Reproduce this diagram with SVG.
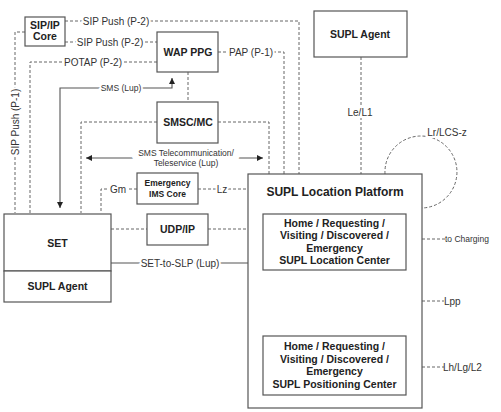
<svg xmlns="http://www.w3.org/2000/svg" width="501" height="412" viewBox="0 0 501 412">
<defs>
<marker id="arr" markerWidth="6" markerHeight="6" refX="6" refY="3" orient="auto-start-reverse" markerUnits="userSpaceOnUse">
<path d="M0,0 L6,3 L0,6 z" fill="#222"/>
</marker>
<style>
.box{fill:#fff;stroke:#555;stroke-width:1.2}
.d{fill:none;stroke:#666;stroke-width:1;stroke-dasharray:3,2}
.s{fill:none;stroke:#555;stroke-width:1.1}
.b{font-family:"Liberation Sans",Arial,sans-serif;font-weight:bold;font-size:10.5px;fill:#222;text-anchor:middle}
.l{font-family:"Liberation Sans",Arial,sans-serif;font-size:10px;fill:#333;text-anchor:middle;stroke:#fff;stroke-width:4;paint-order:stroke}
.sm{font-size:8.5px}
</style>
</defs>
<rect width="501" height="412" fill="#fff"/>
<g id="connectors">
<path class="d" d="M65,21 H299 V174"/>
<path class="d" d="M65,42 H157"/>
<path class="d" d="M157,62 H30 V213"/>
<path class="d" d="M25,32 H15 V213"/>
<path class="d" d="M218,52 H284 V174"/>
<path class="d" d="M188,72 V102"/>
<path class="d" d="M218,122 H269 V174"/>
<path class="d" d="M157,122 H81 V213"/>
<path class="d" d="M137,189 H101 V213"/>
<path class="d" d="M198,189 H248"/>
<path class="d" d="M111,229 H147"/>
<path class="d" d="M208,229 H248"/>
<path class="d" d="M361,57 V174"/>
<path class="d" d="M385,174 A36,36 0 1 1 422,208"/>
<path class="d" d="M422,239 H445"/>
<path class="d" d="M422,301 H444"/>
<path class="d" d="M422,367 H444"/>
<path class="s" d="M172,78 V88 H60 V208" marker-start="url(#arr)" marker-end="url(#arr)"/>
<path class="s" d="M86,158 H263" marker-start="url(#arr)" marker-end="url(#arr)"/>
<path class="s" d="M111,263 H248"/>
<path class="s" d="M335,270 V336"/>
<text class="l" x="116" y="24.5">SIP Push (P-2)</text>
<text class="l" x="110" y="45.5">SIP Push (P-2)</text>
<text class="l" x="93" y="65.5">POTAP (P-2)</text>
<text class="l" x="251" y="55.5">PAP (P-1)</text>
<text class="l" transform="translate(18.5,122) rotate(-90)">SIP Push (P-1)</text>
<text class="l sm" x="121" y="91">SMS (Lup)</text>
<text class="l sm" x="186" y="155.5" style="stroke-width:14">SMS Telecommunication/</text>
<text class="l sm" x="186" y="166" style="stroke-width:0">Teleservice (Lup)</text>
<text class="l" x="118" y="192.5">Gm</text>
<text class="l" x="222" y="192.5">Lz</text>
<text class="l" x="180" y="266.5">SET-to-SLP (Lup)</text>
<text class="l" x="360" y="115.5">Le/L1</text>
<text class="l" x="447" y="135.5">Lr/LCS-z</text>
<text class="l sm" x="466" y="242" style="text-anchor:start;stroke-width:0" transform="translate(-21,0)">to Charging</text>
<text class="l" x="444" y="304.5" style="text-anchor:start;stroke-width:0">Lpp</text>
<text class="l" x="443" y="370.5" style="text-anchor:start;stroke-width:0">Lh/Lg/L2</text>
<text class="l" x="335" y="310.5" style="stroke-width:12">Llp</text>
</g>
<g id="sip-ip-core">
<rect class="box" x="25" y="17" width="40" height="29"/>
<text class="b" x="45" y="28.5">SIP/IP</text>
<text class="b" x="45" y="40">Core</text>
</g>
<g id="wap-ppg">
<rect class="box" x="157" y="32" width="61" height="40"/>
<text class="b" x="188" y="56">WAP PPG</text>
</g>
<g id="smsc-mc">
<rect class="box" x="157" y="102" width="61" height="41"/>
<text class="b" x="188" y="126">SMSC/MC</text>
</g>
<g id="supl-agent-top">
<rect class="box" x="314" y="11" width="93" height="46"/>
<text class="b" x="360" y="38">SUPL Agent</text>
</g>
<g id="emergency-ims-core">
<rect class="box" x="137" y="173" width="61" height="31"/>
<text class="b" x="167.5" y="186" style="font-size:8.5px">Emergency</text>
<text class="b" x="167.5" y="196.5" style="font-size:8.5px">IMS Core</text>
</g>
<g id="udp-ip">
<rect class="box" x="147" y="214" width="61" height="31"/>
<text class="b" x="177.5" y="233">UDP/IP</text>
</g>
<g id="set">
<rect class="box" x="4" y="214" width="107" height="57"/>
<text class="b" x="57.5" y="246.5">SET</text>
</g>
<g id="supl-agent-set">
<rect class="box" x="4" y="271" width="107" height="31"/>
<text class="b" x="57.5" y="290">SUPL Agent</text>
</g>
<g id="slp">
<rect class="box" x="248" y="174" width="174" height="234"/>
<text class="b" x="335" y="195.5" style="font-size:12px">SUPL Location Platform</text>
</g>
<g id="slc">
<rect class="box" x="263" y="214" width="143" height="56"/>
<text class="b" x="334.5" y="226.5">Home / Requesting /</text>
<text class="b" x="334.5" y="239">Visiting / Discovered /</text>
<text class="b" x="334.5" y="251.5">Emergency</text>
<text class="b" x="334.5" y="264">SUPL Location Center</text>
</g>
<g id="spc">
<rect class="box" x="263" y="336" width="143" height="59"/>
<text class="b" x="334.5" y="350">Home / Requesting /</text>
<text class="b" x="334.5" y="362.5">Visiting / Discovered /</text>
<text class="b" x="334.5" y="375">Emergency</text>
<text class="b" x="334.5" y="387.5">SUPL Positioning Center</text>
</g>
</svg>
